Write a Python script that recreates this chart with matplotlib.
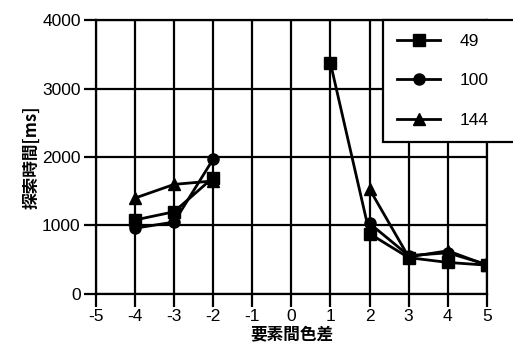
import matplotlib.pyplot as plt

plt.rcParams['font.family'] = ['Liberation Sans', 'Noto Sans CJK JP', 'DejaVu Sans']
plt.rcParams['axes.unicode_minus'] = False

# 要素間色差ごとの探索時間
x_neg = [-4, -3, -2]
x_pos = [1, 2, 3, 4, 5]
x_pos100 = [2, 3, 4, 5]

t49_neg = [1080, 1200, 1700]
t49_pos = [3370, 880, 530, 460, 420]
t100_neg = [960, 1050, 1970]
t100_pos = [1030, 560, 600, 430]
t144_neg = [1400, 1600, 1650]
t144_pos = [1530, 540, 630, 420]

xticks = list(range(-5, 6))
yticks = [0, 1000, 2000, 3000, 4000]

fig = plt.figure(figsize=(5.13, 3.52), dpi=100)
ax = fig.add_axes([0.187, 0.165, 0.762, 0.778])

lw = 2.0
ms = 8
ax.plot(x_neg, t49_neg, 'k-s', lw=lw, ms=ms, label='49')
ax.plot(x_pos, t49_pos, 'k-s', lw=lw, ms=ms)
ax.plot(x_neg, t100_neg, 'k-o', lw=lw, ms=ms, label='100')
ax.plot(x_pos100, t100_pos, 'k-o', lw=lw, ms=ms)
ax.plot(x_neg, t144_neg, 'k-^', lw=lw, ms=ms, label='144')
ax.plot(x_pos100, t144_pos, 'k-^', lw=lw, ms=ms)

ax.set_xlim(-5, 5)
ax.set_ylim(0, 4000)
ax.set_xticks(xticks)
ax.set_yticks(yticks)
ax.grid(True, color='black', linewidth=1.6)
ax.set_axisbelow(True)
for s in ax.spines.values():
    s.set_linewidth(1.6)
ax.tick_params(direction='out', length=9, width=1.6, labelsize=12.5, pad=2)

ax.set_xlabel('要素間色差', fontsize=12, fontweight='bold',
              family=['Noto Sans CJK JP'], labelpad=1)
ax.set_ylabel('探索時間[ms]', fontsize=12, fontweight='bold',
              family=['Noto Sans CJK JP', 'Liberation Sans'], labelpad=1)

# 凡例は右上、図の右端まで
leg = ax.legend(loc='upper left',
                bbox_to_anchor=(383 / 513, 0, 135 / 513, 1 - 20 / 352),
                bbox_transform=fig.transFigure, mode='expand',
                fontsize=12.5, frameon=True,
                fancybox=False, edgecolor='black', framealpha=1,
                handlelength=2.5, labelspacing=1.4, borderpad=0.8,
                handletextpad=1.1, borderaxespad=0)
leg.get_frame().set_linewidth(1.6)

fig.savefig('out.png', dpi=100)
